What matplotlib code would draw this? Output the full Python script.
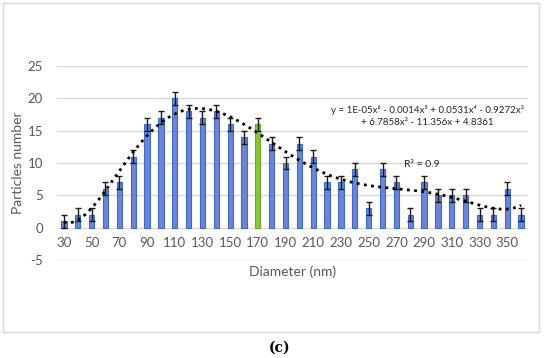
import numpy as np
import matplotlib
matplotlib.use('Agg')
import matplotlib.pyplot as plt
from matplotlib.patches import Rectangle

# 粒径分布数据
diameters = list(range(30, 370, 10))
counts = [1, 2, 2, 6, 7, 11, 16, 17, 20, 18, 17, 18, 16, 14, 16, 13, 10,
          13, 11, 7, 7, 9, 3, 9, 7, 2, 7, 5, 5, 5, 2, 2, 6, 2]
errors = [1] * len(counts)
highlight = 170
tick_labels = [str(d) if (d - 30) % 20 == 0 else '' for d in diameters]

plt.rcParams['font.family'] = ['Lato', 'DejaVu Sans']
plt.rcParams['axes.unicode_minus'] = False

fig = plt.figure(figsize=(5.5, 3.58), dpi=100)
ax = fig.add_axes([0.1036, 0.2737, 0.8564, 0.5419])

x = np.arange(len(diameters))
colors = ['#8cc43c' if d == highlight else '#6d84d8' for d in diameters]
edges = ['#6aa82c' if d == highlight else '#3f6cc0' for d in diameters]
ax.bar(x, counts, width=0.38, color=colors, edgecolor=edges, linewidth=0.8, zorder=3)
ax.errorbar(x, counts, yerr=errors, fmt='none', ecolor='#1a1a1a',
            elinewidth=1, capsize=2.5, capthick=1, zorder=4)

# 六次多项式趋势线
idx = x + 1
coef = np.polyfit(idx, counts, 6)
xs = np.linspace(1, len(diameters), 300)
ax.plot(xs - 1, np.polyval(coef, xs), color='black', linestyle=(0, (1, 1.6)),
        linewidth=2, zorder=5)

ax.set_xlim(-0.5, len(diameters) - 0.5)
ax.set_ylim(-5, 25)
ax.set_yticks(np.arange(-5, 30, 5))
ax.grid(axis='y', color='#d9d9d9', linewidth=1, zorder=0)
for s in ax.spines.values():
    s.set_visible(False)
ax.spines['bottom'].set_position(('data', 0))
ax.set_xticks(x)
ax.set_xticklabels(tick_labels)
ax.tick_params(axis='both', length=0, labelsize=9.5, colors='#595959')
ax.tick_params(axis='x', pad=7)
ax.tick_params(axis='y', pad=10)

ax.text(0.787, 0.742, 'y = 1E-05x⁶ - 0.0014x⁵ + 0.0531x⁴ - 0.9272x³\n+ 6.7858x² - 11.356x + 4.8361',
        transform=ax.transAxes, ha='center', va='center', fontsize=7,
        color='#262626', linespacing=1.35)
ax.text(0.775, 0.49, 'R² = 0.9', transform=ax.transAxes, ha='center', va='center',
        fontsize=7.5, color='#262626')

fig.text(0.532, 1 - 272 / 358, 'Diameter (nm)', ha='center', va='center',
         fontsize=10, color='#595959')
fig.text(0.033, 1 - 163 / 358, 'Particles number', ha='center', va='center',
         rotation=90, fontsize=10, color='#595959')

fig.patches.append(Rectangle((3 / 550, 1 - 332 / 358), 536 / 550, 329 / 358,
                             transform=fig.transFigure, fill=False,
                             edgecolor='#d9d9d9', linewidth=1))
fig.text(0.509, 1 - 348 / 358, '(c)', ha='center', va='center', fontsize=10,
         fontweight='bold', family='DejaVu Serif')

fig.savefig('out.png', dpi=100)
